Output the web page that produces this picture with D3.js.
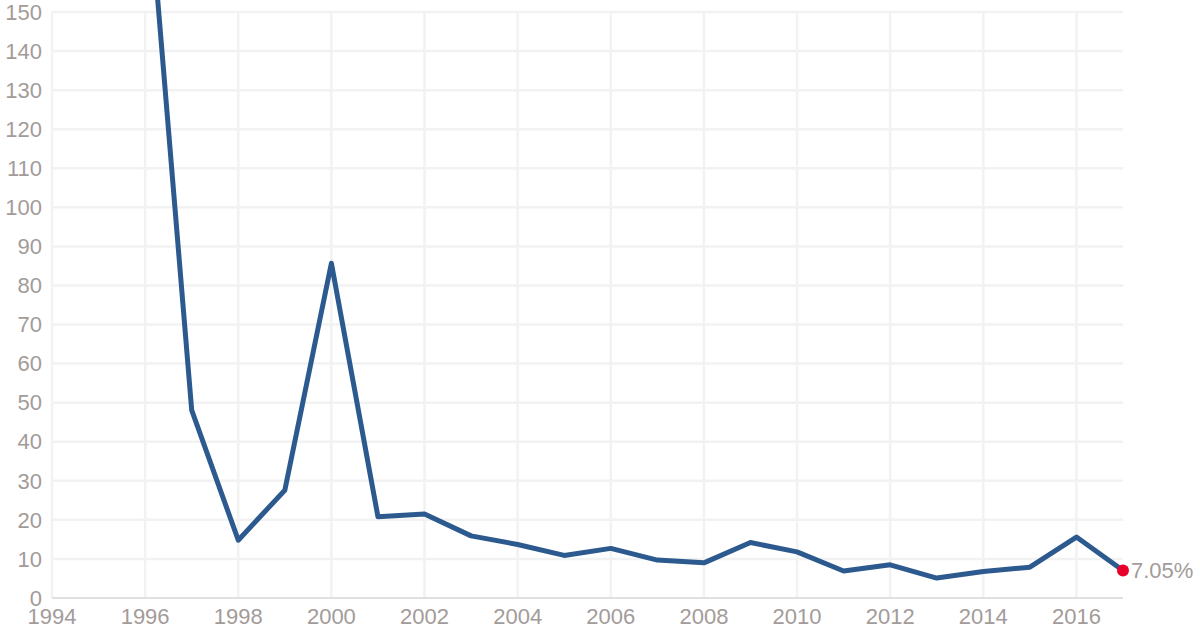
<!DOCTYPE html>
<html>
<head>
<meta charset="utf-8">
<script src="https://cdn.jsdelivr.net/npm/d3@7"></script>
<style>
  body { margin: 0; background: #fff; }
  svg { display: block; font-family: "Liberation Sans", Arial, sans-serif; }
</style>
</head>
<body>
<div id="chart"></div>
<script>
// DATA
const years = [1996, 1997, 1998, 1999, 2000, 2001, 2002, 2003, 2004, 2005, 2006,
  2007, 2008, 2009, 2010, 2011, 2012, 2013, 2014, 2015, 2016, 2017];
const rates = [192, 48.1, 14.8, 27.6, 85.7, 20.8, 21.5, 15.9, 13.7, 10.9, 12.7,
  9.7, 9.0, 14.2, 11.8, 6.9, 8.5, 5.1, 6.8, 7.9, 15.6, 7.05];
const yTicks = d3.range(0, 151, 10);
const xTicks = [1994, 1996, 1998, 2000, 2002, 2004, 2006, 2008, 2010, 2012, 2014, 2016];
const lastLabel = "7.05%";

// SVG
const width = 1200, height = 630;
const svg = d3.select("#chart").append("svg")
  .attr("width", width).attr("height", height);

const x = d3.scaleLinear().domain([1994, 2017]).range([52, 1123]);
const y = d3.scaleLinear().domain([0, 150]).range([598, 12]);

const gridColor = "#f2f2f2";
const textColor = "#a39b99";

// grid
svg.append("g")
  .selectAll("line")
  .data(yTicks.filter(d => d > 0))
  .join("line")
    .attr("x1", x(1994)).attr("x2", x(2017))
    .attr("y1", d => y(d)).attr("y2", d => y(d))
    .attr("stroke", gridColor).attr("stroke-width", 2.5);
svg.append("g")
  .selectAll("line")
  .data(xTicks)
  .join("line")
    .attr("x1", d => x(d)).attr("x2", d => x(d))
    .attr("y1", y(150)).attr("y2", y(0))
    .attr("stroke", gridColor).attr("stroke-width", 2.5);

// x axis line
svg.append("line")
  .attr("x1", x(1994)).attr("x2", x(2017))
  .attr("y1", y(0)).attr("y2", y(0))
  .attr("stroke", "#e2dfdf").attr("stroke-width", 2);

// y labels
svg.append("g")
  .selectAll("text")
  .data(yTicks)
  .join("text")
    .attr("x", 42).attr("y", d => y(d))
    .attr("dy", "0.35em")
    .attr("text-anchor", "end")
    .attr("font-size", 22)
    .attr("fill", textColor)
    .text(d => d);

// x labels
svg.append("g")
  .selectAll("text")
  .data(xTicks)
  .join("text")
    .attr("x", d => x(d)).attr("y", 624)
    .attr("text-anchor", "middle")
    .attr("font-size", 22)
    .attr("fill", textColor)
    .text(d => d);

// line
const line = d3.line().x((d, i) => x(years[i])).y(d => y(d));
svg.append("path")
  .datum(rates)
  .attr("d", line)
  .attr("fill", "none")
  .attr("stroke", "#2d5a8e")
  .attr("stroke-width", 5)
  .attr("stroke-linejoin", "round")
  .attr("stroke-linecap", "round");

// last point
const lx = x(years[years.length - 1]), ly = y(rates[rates.length - 1]);
svg.append("circle")
  .attr("cx", lx).attr("cy", ly).attr("r", 6)
  .attr("fill", "#e8002b");
svg.append("text")
  .attr("x", lx + 8).attr("y", ly)
  .attr("dy", "0.35em")
  .attr("font-size", 22)
  .attr("fill", textColor)
  .text(lastLabel);
</script>
</body>
</html>
